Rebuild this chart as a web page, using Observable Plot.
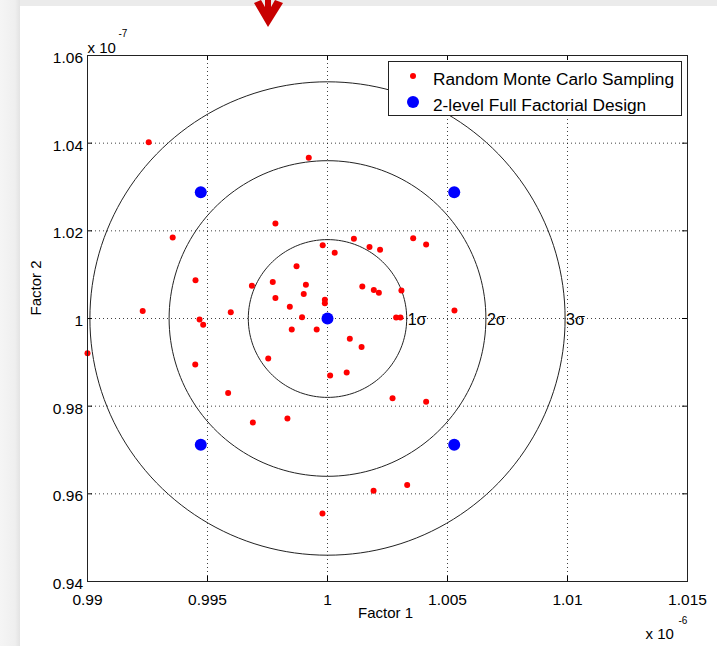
<!DOCTYPE html>
<html>
<head>
<meta charset="utf-8">
<script src="https://cdn.jsdelivr.net/npm/d3@7"></script>
<script src="https://cdn.jsdelivr.net/npm/@observablehq/plot@0.6"></script>
<style>
  html, body { margin: 0; padding: 0; background: #fff; }
  #wrap { position: relative; width: 717px; height: 646px; overflow: hidden; background: #fff; font-family: "Liberation Sans", Arial, sans-serif; }
  #topband { position: absolute; left: 0; top: 0; width: 717px; height: 6px; background: #ebebeb; }
  #leftband { position: absolute; left: 0; top: 0; width: 20px; height: 646px; background: linear-gradient(to right, #f5f5f5, #efefef 75%, #e3e3e3); }
  #chart { position: absolute; left: 0; top: 0; }
  #arrow { position: absolute; left: 0; top: 0; }
  #legend { position: absolute; left: 388px; top: 61px; width: 294px; height: 55px; border: 1px solid #222; background: #fff; box-sizing: border-box; }
  .lg-dot { position: absolute; border-radius: 50%; }
  .lg-txt { position: absolute; left: 44px; font-size: 17.3px; line-height: 1; white-space: nowrap; color: #000; }
</style>
</head>
<body>
<div id="wrap">
  <div id="topband"></div>
  <div id="leftband"></div>
  <div id="chart"></div>
  <svg id="arrow" width="717" height="40"><path d="M254,3 L261,0 L265,7 L265,0 L271,0 L271,7 L275,0 L283,3 L268,27 Z" fill="#c80000"/></svg>
  <div id="legend">
    <div class="lg-dot" style="left:21px;top:11px;width:6px;height:6px;background:#ff0000"></div>
    <div class="lg-txt" style="top:9px">Random Monte Carlo Sampling</div>
    <div class="lg-dot" style="left:18px;top:34px;width:12px;height:12px;background:#0000ff"></div>
    <div class="lg-txt" style="top:35px">2-level Full Factorial Design</div>
  </div>
</div>
<script>
// ---- data (x in units of 1e-6, y in units of 1e-7) ----
const redX = [0.99255, 0.99922, 0.99783, 0.99355, 0.99980, 1.00110, 1.00175, 1.00219, 1.00030, 0.99871,
              1.00357, 1.00411, 0.99450, 0.99685, 0.99772, 0.99910, 0.99901, 0.99783, 1.00145, 1.00193,
              1.00214, 1.00308, 0.99989, 0.99989, 0.99843, 0.99230, 0.99597, 0.99467, 0.99482, 0.99894,
              0.99851, 0.99955, 1.00286, 1.00304, 1.00529, 0.99000, 1.00093, 1.00142, 0.99753, 1.00011,
              1.00080, 0.99449, 0.99586, 0.99689, 0.99833, 1.00271, 1.00411, 1.00192, 1.00332, 0.99979];
const redY = [1.0402, 1.0367, 1.0217, 1.0185, 1.0167, 1.0182, 1.0163, 1.0157, 1.0150, 1.0119,
              1.0183, 1.0169, 1.0087, 1.0075, 1.0083, 1.0077, 1.0056, 1.0047, 1.0073, 1.0065,
              1.0059, 1.0064, 1.0043, 1.0035, 1.0027, 1.0017, 1.0014, 0.9998, 0.9986, 1.0003,
              0.9975, 0.9975, 1.0002, 1.0002, 1.0018, 0.9921, 0.9954, 0.9935, 0.9909, 0.9870,
              0.9877, 0.9895, 0.9830, 0.9763, 0.9772, 0.9818, 0.9810, 0.9607, 0.9620, 0.9555];
const blueX = [0.99472, 1.00528, 0.99472, 1.00528, 1.0];
const blueY = [1.0288, 1.0288, 0.9712, 0.9712, 1.0];
const centerX = 1.0, centerY = 1.0;
const sigmaX = 0.0033, sigmaY = 0.018;
const sigmaLevels = [1, 2, 3];
const sigmaLabels = ["1σ", "2σ", "3σ"];
const xTicks = [0.99, 0.995, 1, 1.005, 1.01, 1.015];
const xTickLabels = ["0.99", "0.995", "1", "1.005", "1.01", "1.015"];
const yTicks = [0.94, 0.96, 0.98, 1, 1.02, 1.04, 1.06];
const yTickLabels = ["0.94", "0.96", "0.98", "1", "1.02", "1.04", "1.06"];
const xLabel = "Factor 1", yLabel = "Factor 2";

// ---- build tables ----
const red = redX.map((x, i) => ({x, y: redY[i]}));
const blue = blueX.map((x, i) => ({x, y: blueY[i]}));
const circles = [];
for (const k of sigmaLevels) {
  for (let a = 0; a <= 360; a += 2) {
    const t = a * Math.PI / 180;
    circles.push({k, x: centerX + k * sigmaX * Math.cos(t), y: centerY + k * sigmaY * Math.sin(t)});
  }
}
const sigmaText = sigmaLevels.map((k, i) => ({x: centerX + k * sigmaX, y: centerY, label: sigmaLabels[i]}));

const W = 717, H = 646, mL = 87, mR = 30, mT = 55, mB = 65;
const innerH = H - mT - mB, innerW = W - mL - mR;

const chart = Plot.plot({
  width: W, height: H,
  marginLeft: mL, marginRight: mR, marginTop: mT, marginBottom: mB,
  style: {background: "transparent", fontFamily: "Liberation Sans, Arial, sans-serif", fontSize: "15px", color: "#000"},
  x: {domain: [0.99, 1.015]},
  y: {domain: [0.94, 1.06]},
  marks: [
    Plot.ruleX(xTicks, {x: d => d, stroke: "#000", strokeOpacity: 0.75, strokeDasharray: "1,3"}),
    Plot.ruleY(yTicks, {y: d => d, stroke: "#000", strokeOpacity: 0.75, strokeDasharray: "1,3"}),
    Plot.tickX(xTicks, {x: d => d, insetBottom: innerH - 5, stroke: "#000"}),
    Plot.tickX(xTicks, {x: d => d, insetTop: innerH - 5, stroke: "#000"}),
    Plot.tickY(yTicks, {y: d => d, insetRight: innerW - 5, stroke: "#000"}),
    Plot.tickY(yTicks, {y: d => d, insetLeft: innerW - 5, stroke: "#000"}),
    Plot.line(circles, {x: "x", y: "y", z: "k", stroke: "#222", strokeWidth: 1}),
    Plot.text(sigmaText, {x: "x", y: "y", text: "label", textAnchor: "start", dx: 1, dy: 1, fontSize: 16, fill: "#000"}),
    Plot.dot(red, {x: "x", y: "y", r: 3, fill: "#ff0000", stroke: "none"}),
    Plot.dot(blue, {x: "x", y: "y", r: 6, fill: "#0000ff", stroke: "none"}),
    Plot.frame({stroke: "#222"}),
    Plot.axisX(xTicks, {tickSize: 0, tickPadding: 12, fontSize: 15.5, label: null, tickFormat: d => xTickLabels[xTicks.indexOf(d)]}),
    Plot.axisY(yTicks, {tickSize: 0, tickPadding: 4.5, dy: 2.5, fontSize: 15.5, label: null, tickFormat: d => yTickLabels[yTicks.indexOf(d)]}),
    Plot.text([xLabel], {frameAnchor: "bottom", text: d => d, lineAnchor: "bottom", dy: 36, dx: -2, fontSize: 15}),
    Plot.text([yLabel], {frameAnchor: "left", text: d => d, rotate: -90, dx: -51, dy: -3, fontSize: 15}),
    Plot.text(["x 10"], {frameAnchor: "top-left", text: d => d, textAnchor: "start", lineAnchor: "bottom", dx: 0, dy: -3, fontSize: 15}),
    Plot.text(["-7"], {frameAnchor: "top-left", text: d => d, textAnchor: "start", lineAnchor: "bottom", dx: 31, dy: -19, fontSize: 10}),
    Plot.text(["x 10"], {frameAnchor: "bottom-right", text: d => d, textAnchor: "start", lineAnchor: "bottom", dx: -42, dy: 57, fontSize: 15}),
    Plot.text(["-6"], {frameAnchor: "bottom-right", text: d => d, textAnchor: "start", lineAnchor: "bottom", dx: -9, dy: 42, fontSize: 10})
  ]
});
document.getElementById("chart").appendChild(chart);
</script>
</body>
</html>
